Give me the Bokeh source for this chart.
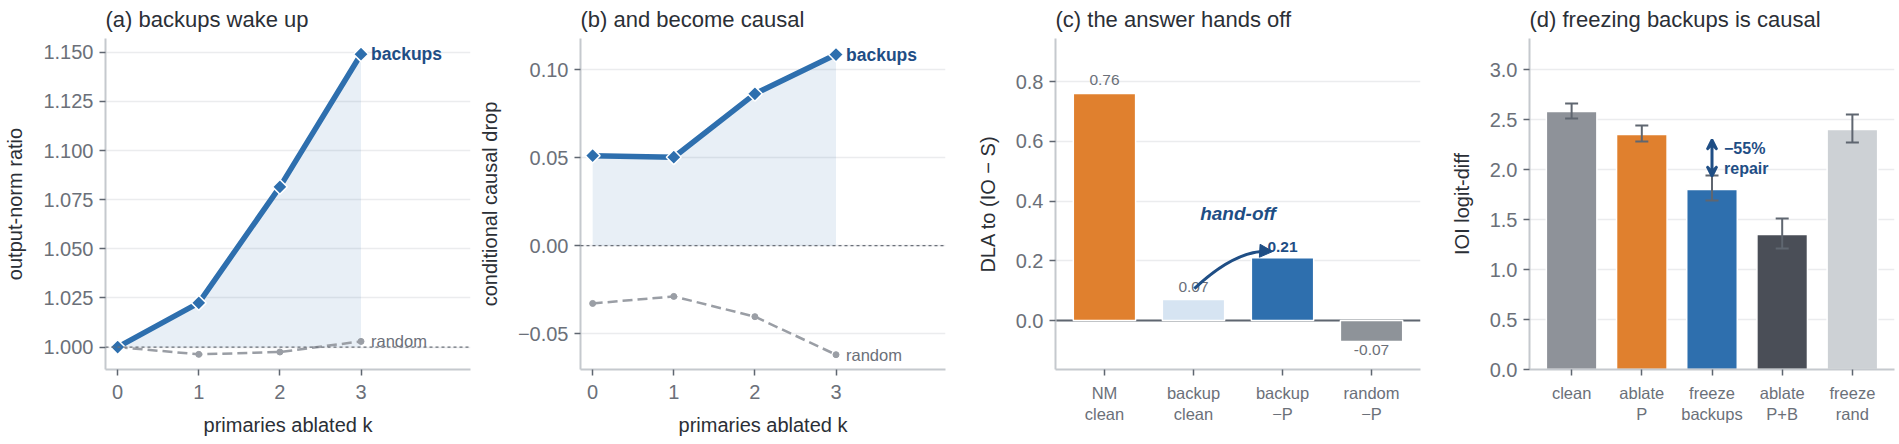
import math
from bokeh.plotting import figure
from bokeh.layouts import row
from bokeh.models import (Range1d, FixedTicker, Span, Arrow, NormalHead, VeeHead, TeeHead,
                          Whisker, ColumnDataSource, Label)
from bokeh.embed import file_html
from bokeh.resources import INLINE
from bokeh.core.properties import value

# ---------------- data ----------------
k = [0, 1, 2, 3]
k_labels = ["0", "1", "2", "3"]

a_backups = [1.000, 1.0225, 1.0815, 1.149]
a_random = [1.000, 0.9963, 0.9975, 1.0029]
a_baseline = 1.0
a_ticks = [1.000, 1.025, 1.050, 1.075, 1.100, 1.125, 1.150]

b_backups = [0.0511, 0.0502, 0.0862, 0.1085]
b_random = [-0.0328, -0.0288, -0.0403, -0.0619]
b_baseline = 0.0
b_ticks = [-0.05, 0.00, 0.05, 0.10]

c_cats = ["NM\nclean", "backup\nclean", "backup\n\u2212P", "random\n\u2212P"]
c_vals = [0.76, 0.07, 0.21, -0.07]
c_ticks = [0.0, 0.2, 0.4, 0.6, 0.8]

d_cats = ["clean", "ablate\nP", "freeze\nbackups", "ablate\nP+B", "freeze\nrand"]
d_vals = [2.58, 2.35, 1.80, 1.35, 2.40]
d_lo = [2.51, 2.28, 1.69, 1.21, 2.27]
d_hi = [2.66, 2.44, 1.94, 1.51, 2.55]
d_ticks = [0.0, 0.5, 1.0, 1.5, 2.0, 2.5, 3.0]

titles = ["(a) backups wake up", "(b) and become causal",
          "(c) the answer hands off", "(d) freezing backups is causal"]

# ---------------- style ----------------
FONT = "Liberation Sans"
DARK = "#2b2f36"
TICKLAB = "#6b7079"
TICKMARK = "#5f6670"
AXIS = "#c5c9ce"
GRID = "#ebecee"
BLUE = "#2e6fae"
BLUE_D = "#1f4e85"
ORANGE = "#e0802e"
LIGHTBLUE = "#d6e4f2"
GRAY = "#8e9399"
RAND = "#9a9ea5"

c_colors = [ORANGE, LIGHTBLUE, BLUE, GRAY]
d_colors = ["#8e9299", ORANGE, BLUE, "#4a4e57", "#cdd1d5"]


def fmt(t, nd):
    s = f"{t:.{nd}f}"
    return s.replace("-", "\u2212")


def base(title, xr, yr, right=5):
    p = figure(frame_width=365, frame_height=331, x_range=Range1d(*xr), y_range=Range1d(*yr),
               output_backend="svg", toolbar_location=None,
               min_border_left=105, min_border_right=right, min_border_top=38, min_border_bottom=75)
    p.outline_line_color = None
    p.background_fill_color = "white"
    p.border_fill_color = "white"
    p.title.text = title
    p.title.text_font = FONT
    p.title.text_font_size = "22px"
    p.title.text_font_style = "normal"
    p.title.text_color = DARK
    p.title.align = "left"
    p.title.vertical_align = "top"
    p.title.standoff = 10
    p.xgrid.grid_line_color = None
    p.ygrid.grid_line_color = GRID
    p.ygrid.grid_line_width = 1.3
    for ax in (p.xaxis[0], p.yaxis[0]):
        ax.axis_line_color = AXIS
        ax.axis_line_width = 2
        ax.major_tick_line_color = TICKMARK
        ax.major_tick_line_width = 1.5
        ax.major_tick_out = 6
        ax.major_tick_in = 0
        ax.minor_tick_line_color = None
        ax.major_label_text_font = FONT
        ax.major_label_text_font_size = "20px"
        ax.major_label_text_color = TICKLAB
        ax.axis_label_text_font = FONT
        ax.axis_label_text_font_size = "20px"
        ax.axis_label_text_font_style = "normal"
        ax.axis_label_text_color = DARK
    p.yaxis[0].major_label_standoff = 6
    p.yaxis[0].axis_label_standoff = 14
    p.xaxis[0].major_label_standoff = 9
    p.xaxis[0].axis_label_standoff = 12
    return p


def set_yticks(p, ticks, nd):
    p.yaxis[0].ticker = FixedTicker(ticks=ticks)
    p.ygrid[0].ticker = FixedTicker(ticks=ticks)
    p.yaxis[0].major_label_overrides = {t: fmt(t, nd) for t in ticks}


def line_panel(title, ylabel, backups, random, baseline, ticks, nd, yr):
    p = base(title, (-0.15, 4.35), yr)
    set_yticks(p, ticks, nd)
    p.xaxis[0].ticker = FixedTicker(ticks=k)
    p.xaxis[0].major_label_overrides = {kk: lab for kk, lab in zip(k, k_labels)}
    p.xaxis[0].axis_label = "primaries ablated k"
    p.yaxis[0].axis_label = ylabel
    p.varea(x=k, y1=[baseline] * len(k), y2=backups, fill_color=BLUE, fill_alpha=0.11)
    p.add_layout(Span(location=baseline, dimension="width", line_color=TICKLAB,
                      line_dash="3 3", line_width=1.3))
    p.line(k, random, line_color=RAND, line_width=2.5, line_dash="10 5")
    p.scatter(k, random, size=6, fill_color=RAND, line_color=RAND)
    p.line(k, backups, line_color=BLUE, line_width=5.5)
    p.scatter(k, backups, marker="square", angle=math.pi / 4, size=10.5,
              fill_color=BLUE, line_color="white", line_width=1.5)
    p.add_layout(Label(x=k[-1], y=backups[-1], x_offset=10, text="backups", text_baseline="middle",
                       text_font=FONT, text_font_size="17.5px", text_font_style="bold", text_color=BLUE_D))
    p.add_layout(Label(x=k[-1], y=random[-1], x_offset=10, text="random", text_baseline="middle",
                       text_font=FONT, text_font_size="16.5px", text_color=TICKLAB))
    return p


pa = line_panel(titles[0], "output-norm ratio", a_backups, a_random, a_baseline,
                a_ticks, 3, (0.9886, 1.157))
pb = line_panel(titles[1], "conditional causal drop", b_backups, b_random, b_baseline,
                b_ticks, 2, (-0.0703, 0.1176))

# ---------------- (c) ----------------
pc = base(titles[2], (-0.55, 3.55), (-0.164, 0.944), right=4)
set_yticks(pc, c_ticks, 1)
c_x = list(range(len(c_cats)))
pc.xaxis[0].ticker = FixedTicker(ticks=c_x)
pc.xaxis[0].major_label_overrides = {i: c for i, c in zip(c_x, c_cats)}
pc.xaxis[0].major_label_text_font_size = "16.5px"
pc.xaxis[0].major_label_standoff = 8
pc.yaxis[0].axis_label = "DLA to (IO \u2212 S)"
pc.add_layout(Span(location=0, dimension="width", line_color=TICKMARK, line_width=2, level="underlay"))
pc.vbar(x=c_x, top=c_vals, bottom=0, width=0.7, fill_color=c_colors, line_color="white", line_width=1.5)

c_pos = [i for i, v in enumerate(c_vals) if v >= 0 and i != 2]
c_neg = [i for i, v in enumerate(c_vals) if v < 0]
pc.text(x=[c_x[i] for i in c_pos], y=[c_vals[i] for i in c_pos], text=[f"{c_vals[i]:.2f}" for i in c_pos],
        text_align="center", text_baseline="bottom", y_offset=-8,
        text_font=value(FONT), text_font_size="15.5px", text_color=TICKLAB)
pc.text(x=[c_x[i] for i in c_neg], y=[c_vals[i] for i in c_neg], text=[f"{c_vals[i]:.2f}" for i in c_neg],
        text_align="center", text_baseline="top", y_offset=4,
        text_font=value(FONT), text_font_size="15.5px", text_color=TICKLAB)
pc.text(x=[c_x[2]], y=[c_vals[2]], text=[f"{c_vals[2]:.2f}"],
        text_align="center", text_baseline="bottom", y_offset=-6,
        text_font=value(FONT), text_font_size="15.5px", text_font_style="bold", text_color=BLUE_D)

# hand-off arrow from backup clean to backup -P
hx0, hy0 = c_x[1] + 0.01, c_vals[1] + 0.037
hx1, hy1 = c_x[2] - 0.11, c_vals[2] + 0.021
hcx, hcy = c_x[1] + 0.48, c_vals[2] + 0.028
pc.quadratic(x0=[hx0], y0=[hy0], x1=[hx1 - 0.04], y1=[hy1 + 0.0005], cx=[hcx], cy=[hcy],
             line_color=BLUE_D, line_width=3)
pc.add_layout(Arrow(end=NormalHead(size=13, fill_color=BLUE_D, line_color=BLUE_D, line_width=1),
                    x_start=hx1 - 0.12, y_start=hy1 + 0.002, x_end=hx1, y_end=hy1,
                    line_color=BLUE_D, line_width=3))
pc.add_layout(Label(x=1.5, y=0.358, text="hand-off", text_align="center", text_baseline="middle",
                    text_font=FONT, text_font_size="19px", text_font_style="bold italic",
                    text_color=BLUE_D))

# ---------------- (d) ----------------
pd_ = base(titles[3], (-0.6, 4.6), (0.0, 3.31), right=4)
set_yticks(pd_, d_ticks, 1)
d_x = list(range(len(d_cats)))
pd_.xaxis[0].ticker = FixedTicker(ticks=d_x)
pd_.xaxis[0].major_label_overrides = {i: c for i, c in zip(d_x, d_cats)}
pd_.xaxis[0].major_label_text_font_size = "16.5px"
pd_.xaxis[0].major_label_standoff = 8
pd_.yaxis[0].axis_label = "IOI logit-diff"
pd_.vbar(x=d_x, top=d_vals, bottom=0, width=0.72, fill_color=d_colors, line_color="white", line_width=1.5)
d_src = ColumnDataSource(dict(x=d_x, lo=d_lo, hi=d_hi))
pd_.add_layout(Whisker(source=d_src, base="x", lower="lo", upper="hi", level="annotation",
                       line_color=TICKMARK, line_width=2,
                       upper_head=TeeHead(size=13, line_color=TICKMARK, line_width=2),
                       lower_head=TeeHead(size=13, line_color=TICKMARK, line_width=2)))
ax_, ay0, ay1 = d_x[2], d_hi[2] - 0.01, 2.30
pd_.add_layout(Arrow(start=VeeHead(size=10, fill_color=BLUE_D, line_color=BLUE_D, line_width=2.5),
                     end=VeeHead(size=10, fill_color=BLUE_D, line_color=BLUE_D, line_width=2.5),
                     x_start=ax_, y_start=ay0, x_end=ax_, y_end=ay1,
                     line_color=BLUE_D, line_width=3))
pd_.add_layout(Label(x=ax_, y=2.21, x_offset=12, text="\u221255%", text_baseline="middle",
                     text_font=FONT, text_font_size="16px", text_font_style="bold", text_color=BLUE_D))
pd_.add_layout(Label(x=ax_, y=2.01, x_offset=12, text="repair", text_baseline="middle",
                     text_font=FONT, text_font_size="16px", text_font_style="bold", text_color=BLUE_D))

layout = row(pa, pb, pc, pd_, spacing=0)
open("out.html", "w").write(file_html(layout, INLINE))
